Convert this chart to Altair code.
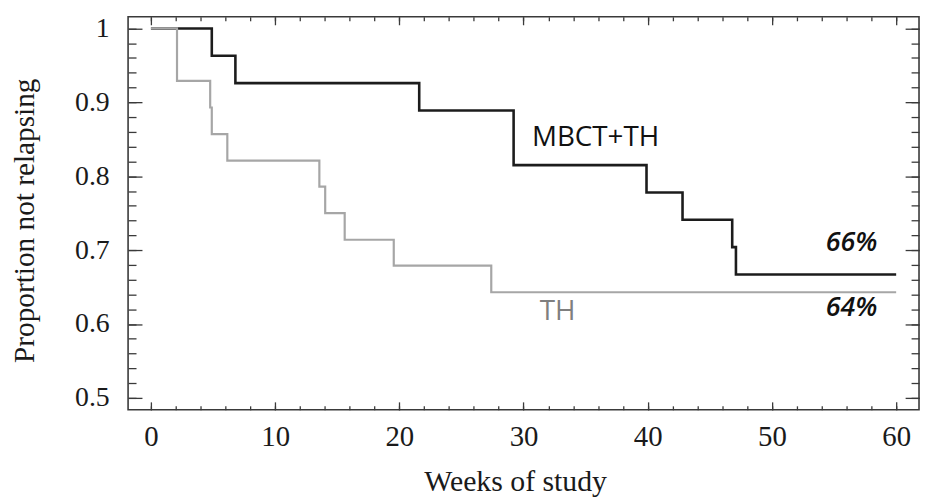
import altair as alt
import pandas as pd

# ---- data ----
weeks_mbct = [0, 4.9, 6.8, 21.6, 29.2, 39.9, 42.8, 46.8, 47.1, 60]
prop_mbct = [1.0, 0.963, 0.926, 0.889, 0.815, 0.778, 0.741, 0.704, 0.667, 0.667]

weeks_th = [0, 2.1, 4.77, 4.9, 6.15, 13.56, 14.03, 15.6, 19.55, 27.4, 60]
prop_th = [1.0, 0.929, 0.893, 0.857, 0.821, 0.786, 0.750, 0.714, 0.679, 0.643, 0.643]

name_text = ["MBCT+TH", "TH"]
name_x = [35.8, 32.75]
name_y = [0.852, 0.6155]
name_color = ["#111111", "#7f7f7f"]

pct_text = ["66%", "64%"]
pct_x = [56.4, 56.4]
pct_y = [0.7095, 0.622]

x_major = [0, 10, 20, 30, 40, 50, 60]
x_minor = list(range(0, 61, 2))
y_major = [0.5, 0.6, 0.7, 0.8, 0.9, 1.0]
y_minor = [round(0.5 + 0.02 * i, 2) for i in range(26)]

x_domain = [-1.84, 61.84]
y_domain = [0.4839, 1.0157]

FRAME = "#3a3a3a"
SERIF = "Liberation Serif"

df_mbct = pd.DataFrame({"week": weeks_mbct, "prop": prop_mbct})
df_th = pd.DataFrame({"week": weeks_th, "prop": prop_th})
df_names = pd.DataFrame({"week": name_x, "prop": name_y, "label": name_text, "color": name_color})
df_pct = pd.DataFrame({"week": pct_x, "prop": pct_y, "label": pct_text})

xs = alt.Scale(domain=x_domain, nice=False, zero=False)
ys = alt.Scale(domain=y_domain, nice=False, zero=False)


def tick_axis(orient, values, size, **kw):
    return alt.Axis(orient=orient, values=values, tickSize=size, offset=-size,
                    domain=False, grid=False, labels=kw.pop("labels", False),
                    tickColor=FRAME, tickWidth=1.3, **kw)


ax_bottom = tick_axis("bottom", x_major, 8, labels=True, labelFont=SERIF, labelFontSize=29,
                      labelColor="#1a1a1a", labelPadding=13, labelFlush=False,
                      labelOverlap=False, title="Weeks of study", titleFont=SERIF,
                      titleFontSize=30, titleFontWeight="normal", titleColor="#1a1a1a",
                      titleX=390, titleY=89, titleAlign="center", titleBaseline="alphabetic")
ax_left = tick_axis("left", y_major, 14, labels=True, labelFont=SERIF, labelFontSize=28,
                    labelColor="#1a1a1a", labelPadding=19, labelFlush=False,
                    labelOverlap=False, format="~g",
                    title="Proportion not relapsing", titleFont=SERIF, titleFontSize=29.5,
                    titleFontWeight="normal", titleColor="#1a1a1a", titleAngle=270,
                    titleX=-118, titleY=205, titleAlign="center", titleBaseline="middle")

black = alt.Chart(df_mbct).mark_line(interpolate="step-after", color="#1c1c1c", strokeWidth=2.6).encode(
    x=alt.X("week:Q", scale=xs, axis=ax_bottom),
    y=alt.Y("prop:Q", scale=ys, axis=ax_left),
)

gray = alt.Chart(df_th).mark_line(interpolate="step-after", color="#a6a6a6", strokeWidth=2.2).encode(
    x=alt.X("week:Q", scale=xs, title=None, axis=tick_axis("bottom", x_minor, 4)),
    y=alt.Y("prop:Q", scale=ys, title=None, axis=tick_axis("left", y_minor, 8)),
)

names = alt.Chart(df_names).mark_text(font="Open Sans", fontSize=28).encode(
    x=alt.X("week:Q", scale=xs, title=None, axis=tick_axis("top", x_major, 8)),
    y=alt.Y("prop:Q", scale=ys, title=None, axis=tick_axis("right", y_major, 14)),
    text="label:N",
    color=alt.Color("color:N", scale=None),
)

pcts = alt.Chart(df_pct).mark_text(font="Open Sans", fontSize=27, fontStyle="italic",
                                   fontWeight=600, color="#111111").encode(
    x=alt.X("week:Q", scale=xs, title=None, axis=tick_axis("top", x_minor, 4)),
    y=alt.Y("prop:Q", scale=ys, title=None, axis=tick_axis("right", y_minor, 8)),
    text="label:N",
)

chart = alt.layer(black, gray, names, pcts).resolve_axis(
    x="independent", y="independent"
).properties(
    width=797, height=396,
    padding={"left": 121, "top": 7, "right": 2, "bottom": 89},
    autosize=alt.AutoSizeParams(type="none"),
).configure_view(stroke=FRAME, strokeWidth=1.6)

chart.save("out.html", embed_options={"renderer": "svg", "actions": False})
